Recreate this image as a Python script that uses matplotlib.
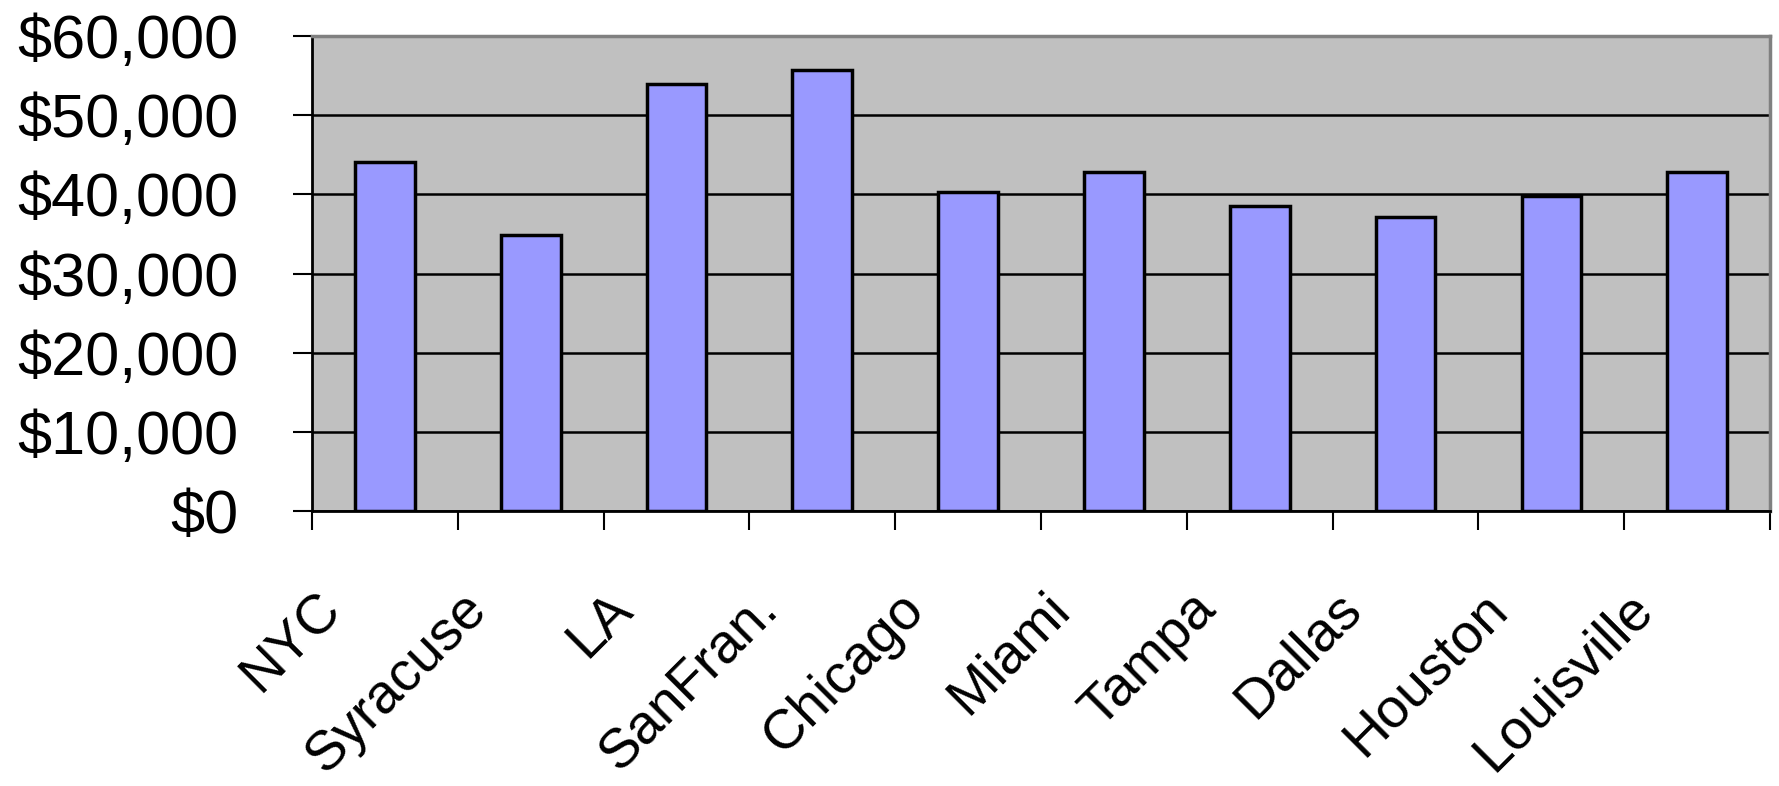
import numpy as np
import matplotlib.pyplot as plt
from matplotlib.ticker import FuncFormatter, MultipleLocator
import matplotlib.transforms as mtransforms

plt.rcParams['font.family'] = ['Liberation Sans', 'DejaVu Sans']

# average salary by city
cities = ['NYC', 'Syracuse', 'LA', 'SanFran.', 'Chicago', 'Miami',
          'Tampa', 'Dallas', 'Houston', 'Louisville']
salaries = [44100, 34900, 54000, 55700, 40250, 42800,
            38500, 37200, 39800, 42800]

fig = plt.figure(figsize=(17.79, 7.86), dpi=100)
ax = fig.add_axes([0.1754, 0.350, 0.8196, 0.604])

x = np.arange(len(cities))
ax.set_facecolor('#C0C0C0')
ax.bar(x, salaries, width=0.41, color='#9999FF', edgecolor='black',
       linewidth=2.5, zorder=3)

ax.set_ylim(0, 60000)
ax.set_xlim(-0.5, len(cities) - 0.5)
ax.yaxis.set_major_locator(MultipleLocator(10000))
ax.yaxis.set_major_formatter(FuncFormatter(lambda v, p: '${:,.0f}'.format(v)))
ax.grid(axis='y', color='black', linewidth=1.8, zorder=1)

# ticks between the bars, labels under the bars
ax.set_xticks(x)
ax.set_xticks(np.arange(len(cities) + 1) - 0.5, minor=True)
ax.tick_params(axis='x', which='major', length=0, pad=62)
ax.tick_params(axis='x', which='minor', length=14, width=1.5, direction='out')
ax.tick_params(axis='y', length=14, width=1.5, direction='out', pad=39,
               labelsize=44)
ax.set_xticklabels(cities, rotation=45, ha='right', va='center',
                   rotation_mode='anchor', fontsize=40)
shift = mtransforms.ScaledTranslation(-0.52, -0.04, fig.dpi_scale_trans)
for lbl in ax.get_xticklabels():
    lbl.set_transform(lbl.get_transform() + shift)

for side in ['top', 'right']:
    ax.spines[side].set_color('#808080')
    ax.spines[side].set_linewidth(2.5)
for side in ['left', 'bottom']:
    ax.spines[side].set_color('black')
    ax.spines[side].set_linewidth(2)

fig.savefig('out.png', dpi=100)
